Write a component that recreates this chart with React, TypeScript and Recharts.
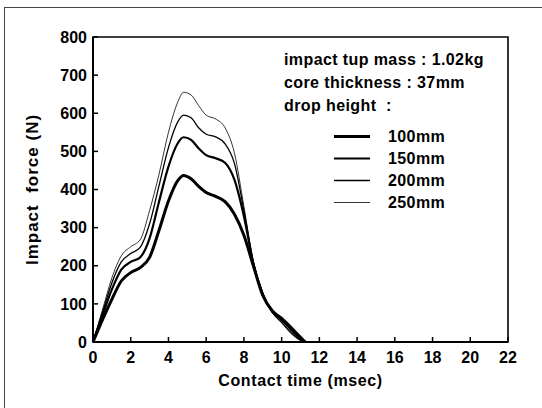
import React from "react";
import { LineChart, Line, XAxis, YAxis, Legend, ReferenceArea } from "recharts";

const times = [0, 0.5, 1, 1.5, 2, 2.5, 3, 3.5, 4, 4.5, 4.8, 5.2, 5.6, 6, 6.5, 7, 7.5, 8, 8.5, 9, 9.5, 10, 10.5, 11, 11.25];
const force100 = [0, 58, 112, 160, 182, 195, 222, 293, 370, 424, 437, 428, 408, 392, 382, 368, 335, 280, 200, 122, 82, 62, 38, 12, 0];
const force150 = [0, 70, 138, 190, 210, 222, 272, 368, 460, 522, 537, 530, 508, 490, 482, 470, 425, 330, 205, 125, 80, 58, 32, 8, 0];
const force200 = [0, 78, 155, 210, 232, 248, 310, 410, 510, 578, 595, 588, 562, 545, 538, 520, 468, 345, 210, 128, 78, 52, 25, 5, 0];
const force250 = [0, 84, 168, 226, 250, 268, 345, 440, 550, 630, 655, 648, 620, 595, 585, 562, 495, 355, 212, 130, 78, 50, 22, 4, 0];

const xTicks = [0, 2, 4, 6, 8, 10, 12, 14, 16, 18, 20, 22];
const yTicks = [0, 100, 200, 300, 400, 500, 600, 700, 800];
const seriesNames = ["100mm", "150mm", "200mm", "250mm"];
const seriesKeys = ["f100", "f150", "f200", "f250"];
const seriesWidths = [3, 2.2, 1.3, 0.8];
const noteLines = ["impact tup mass : 1.02kg", "core thickness : 37mm", "drop height  :"];

const data = times.map((t, i) => ({
  t,
  f100: force100[i],
  f150: force150[i],
  f200: force200[i],
  f250: force250[i],
}));

const FONT = "'Liberation Sans', Arial, sans-serif";

const LegendBox = () => (
  <svg width={250} height={180} style={{ display: "block" }}>
    {noteLines.map((s, i) => (
      <text key={s} x={4} y={25 + i * 23} fontFamily={FONT} fontSize={16} letterSpacing={0.4} fontWeight="bold" fill="#000" style={{ whiteSpace: "pre" }}>
        {s}
      </text>
    ))}
    {seriesNames.map((n, i) => (
      <g key={n}>
        <line x1={54} x2={90} y1={96.5 + i * 22} y2={96.5 + i * 22} stroke="#000" strokeWidth={seriesWidths[i]} />
        <text x={108} y={102 + i * 22} fontFamily={FONT} fontSize={16} letterSpacing={0.4} fontWeight="bold" fill="#000">
          {n}
        </text>
      </g>
    ))}
  </svg>
);

const YTitle = (props: any) => {
  const vb = props.viewBox || { x: 0, y: 37, width: 93, height: 305 };
  const cx = 32;
  const cy = vb.y + vb.height / 2;
  return (
    <text x={cx} y={cy} transform={`rotate(-90, ${cx}, ${cy})`} textAnchor="middle" dominantBaseline="central" fontFamily={FONT} fontSize={17} letterSpacing={1} fontWeight="bold" fill="#000" style={{ whiteSpace: "pre" }}>
      {"Impact  force (N)"}
    </text>
  );
};

const XTitle = (props: any) => {
  const vb = props.viewBox || { x: 93, y: 342, width: 415, height: 66 };
  return (
    <text x={vb.x + vb.width / 2} y={386} textAnchor="middle" fontFamily={FONT} fontSize={16} letterSpacing={0.6} fontWeight="bold" fill="#000">
      Contact time (msec)
    </text>
  );
};

export default function App() {
  return (
    <div style={{ position: "absolute", left: 0, top: 0, width: 542, height: 408, background: "#fff" }}>
      <div style={{ position: "absolute", left: 4, top: 7, width: 540, height: 402, borderTop: "1px solid #444", borderLeft: "1px solid #444" }} />
      <LineChart width={542} height={408} data={data} margin={{ top: 37, right: 34, bottom: 0, left: 0 }}>
        <XAxis
          dataKey="t"
          type="number"
          domain={[0, 22]}
          ticks={xTicks}
          interval={0}
          height={66}
          tickSize={-5}
          tickMargin={15}
          axisLine={{ stroke: "#000", strokeWidth: 2 }}
          tickLine={{ stroke: "#000", strokeWidth: 1.5 }}
          tick={{ fill: "#000", fontSize: 16, fontWeight: "bold", fontFamily: FONT }}
          label={<XTitle />}
        />
        <YAxis
          type="number"
          domain={[0, 800]}
          ticks={yTicks}
          interval={0}
          width={93}
          tickSize={-5}
          tickMargin={11}
          axisLine={{ stroke: "#000", strokeWidth: 2 }}
          tickLine={{ stroke: "#000", strokeWidth: 1.5 }}
          tick={{ fill: "#000", fontSize: 16, fontWeight: "bold", fontFamily: FONT }}
          label={<YTitle />}
        />
        <ReferenceArea x1={0} x2={22} y1={0} y2={800} fill="none" fillOpacity={0} stroke="#000" strokeWidth={1.6} ifOverflow="visible" />
        <Legend
          layout="horizontal"
          verticalAlign="middle"
          align="center"
          content={() => <LegendBox />}
          wrapperStyle={{ position: "absolute", left: 280, top: 40, width: 250, height: 180 }}
        />
        {seriesKeys.map((k, i) => (
          <Line
            key={k}
            dataKey={k}
            name={seriesNames[i]}
            type="monotone"
            stroke="#000"
            strokeWidth={seriesWidths[i]}
            dot={false}
            activeDot={false}
            isAnimationActive={false}
            legendType="line"
          />
        ))}
      </LineChart>
    </div>
  );
}
